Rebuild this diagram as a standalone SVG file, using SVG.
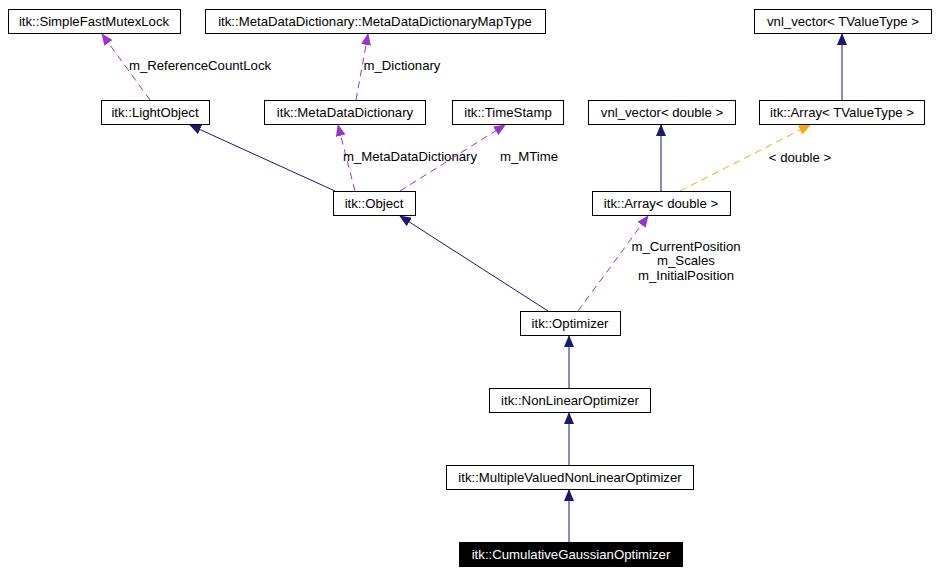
<svg xmlns="http://www.w3.org/2000/svg" width="939" height="575" viewBox="0 0 939 575">
<style>
.n rect{fill:#fff;stroke:#000;stroke-width:1}
text{font-family:"Liberation Sans",Arial,sans-serif;font-size:13.2px;fill:#000}
.c text{text-anchor:middle}
.n text{text-anchor:middle}
.b{stroke:#191970;fill:none}
.p{stroke:#9a32cd;fill:none;stroke-dasharray:7,5}
.o{stroke:#ffa500;fill:none;stroke-dasharray:7,5}
</style>
<defs>
<marker id="mb" markerWidth="12" markerHeight="10" refX="11" refY="5" orient="auto" markerUnits="userSpaceOnUse"><path d="M0,0L12,5L0,10z" fill="#191970"/></marker>
<marker id="mp" markerWidth="12" markerHeight="10" refX="11" refY="5" orient="auto" markerUnits="userSpaceOnUse"><path d="M0,0L12,5L0,10z" fill="#9a32cd"/></marker>
<marker id="mo" markerWidth="12" markerHeight="10" refX="11" refY="5" orient="auto" markerUnits="userSpaceOnUse"><path d="M0,0L12,5L0,10z" fill="#ffa500"/></marker>
</defs>
<g id="connectors" class="c">
<path class="p" d="M150,100L102,34" marker-end="url(#mp)"/><text x="200" y="70">m_ReferenceCountLock</text>
<path class="p" d="M356,100L368,34" marker-end="url(#mp)"/><text x="402" y="70">m_Dictionary</text>
<path class="b" d="M842,100L842,34" marker-end="url(#mb)"/>
<path class="b" d="M335,191L190,125" marker-end="url(#mb)"/>
<path class="p" d="M355,191L338,125" marker-end="url(#mp)"/><text x="410" y="161">m_MetaDataDictionary</text>
<path class="p" d="M400,191L505,125" marker-end="url(#mp)"/><text x="529" y="161">m_MTime</text>
<path class="b" d="M661,191L661,125" marker-end="url(#mb)"/>
<path class="o" d="M680,191L810,125" marker-end="url(#mo)"/><text x="800" y="162">&lt; double &gt;</text>
<path class="b" d="M548,311L400,216" marker-end="url(#mb)"/>
<path class="p" d="M578,311L648,216" marker-end="url(#mp)"/>
<text x="686" y="251">m_CurrentPosition</text><text x="686" y="265">m_Scales</text><text x="686" y="280">m_InitialPosition</text>
<path class="b" d="M569,388L569,336" marker-end="url(#mb)"/>
<path class="b" d="M569,465L569,413" marker-end="url(#mb)"/>
<path class="b" d="M569,542L569,490" marker-end="url(#mb)"/>
</g>
<g id="n1" class="n"><rect x="8.5" y="9.5" width="172" height="24"/><text x="94" y="26">itk::SimpleFastMutexLock</text></g>
<g id="n2" class="n"><rect x="205.5" y="9.5" width="340" height="24"/><text x="375" y="26">itk::MetaDataDictionary::MetaDataDictionaryMapType</text></g>
<g id="n3" class="n"><rect x="754.5" y="9.5" width="177" height="24"/><text x="843" y="26">vnl_vector&lt; TValueType &gt;</text></g>
<g id="n4" class="n"><rect x="101.5" y="100.5" width="108" height="24"/><text x="155" y="117">itk::LightObject</text></g>
<g id="n5" class="n"><rect x="264.5" y="100.5" width="161" height="24"/><text x="345" y="117">itk::MetaDataDictionary</text></g>
<g id="n6" class="n"><rect x="452.5" y="100.5" width="111" height="24"/><text x="508" y="117">itk::TimeStamp</text></g>
<g id="n7" class="n"><rect x="588.5" y="100.5" width="147" height="24"/><text x="662" y="117">vnl_vector&lt; double &gt;</text></g>
<g id="n8" class="n"><rect x="759.5" y="100.5" width="165" height="24"/><text x="842" y="117">itk::Array&lt; TValueType &gt;</text></g>
<g id="n9" class="n"><rect x="333.5" y="191.5" width="82" height="24"/><text x="374" y="208">itk::Object</text></g>
<g id="n10" class="n"><rect x="592.5" y="191.5" width="138" height="24"/><text x="661" y="208">itk::Array&lt; double &gt;</text></g>
<g id="n11" class="n"><rect x="520.5" y="311.5" width="100" height="24"/><text x="570" y="328">itk::Optimizer</text></g>
<g id="n12" class="n"><rect x="489.5" y="388.5" width="161" height="24"/><text x="570" y="405">itk::NonLinearOptimizer</text></g>
<g id="n13" class="n"><rect x="446.5" y="465.5" width="247" height="24"/><text x="570" y="482">itk::MultipleValuedNonLinearOptimizer</text></g>
<g id="n14" class="n"><rect x="459.5" y="542.5" width="223" height="24" style="fill:#000"/><text x="571" y="559" style="fill:#fff">itk::CumulativeGaussianOptimizer</text></g>
</svg>
